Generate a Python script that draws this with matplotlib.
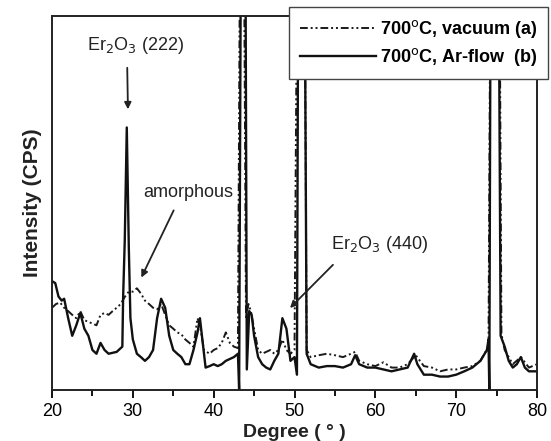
import numpy as np
from matplotlib import pyplot as plt

plt.rcParams['font.family'] = ['Liberation Sans', 'DejaVu Sans']

# 700C, vacuum (a)
deg_a = [20.0, 20.5, 21.0, 21.5, 22.0, 22.5, 23.0, 23.5, 24.0, 24.5, 25.0, 25.5, 26.0, 26.5, 27.0, 27.5,
         28.0, 28.5, 29.0, 29.5, 30.0, 30.5, 31.0, 31.5, 32.0, 32.5, 33.0, 33.5, 34.0, 34.5, 35.0, 35.5,
         36.0, 36.5, 37.0, 37.5, 38.0, 38.3, 38.8, 39.5, 40.0, 40.5, 41.0, 41.5, 42.0, 42.5, 43.0, 43.3,
         43.7, 44.0, 44.3, 44.6, 45.0, 45.5, 46.0, 46.5, 47.0, 47.5, 48.0, 48.5, 49.0, 49.5, 50.0, 50.4,
         51.2, 51.5, 52.0, 53.0, 54.0, 55.0, 56.0, 57.0, 57.5, 58.0, 59.0, 60.0, 61.0, 62.0, 63.0, 64.0,
         65.0, 66.0, 67.0, 68.0, 69.0, 70.0, 71.0, 72.0, 73.0, 74.0, 74.3, 75.3, 75.6, 76.0, 77.0, 78.0,
         79.0, 80.0]
cps_a = [22.0, 23.0, 23.4, 22.0, 21.1, 20.1, 19.2, 21.1, 18.7, 18.2, 17.8, 17.3, 20.1, 20.6, 20.1, 21.1,
         22.0, 23.0, 24.9, 26.3, 26.3, 27.2, 25.8, 23.9, 23.0, 22.0, 21.6, 23.0, 20.1, 17.3, 16.4, 15.4,
         14.9, 13.5, 12.6, 11.6, 19.2, 17.3, 10.7, 9.7, 10.7, 11.2, 12.6, 15.4, 12.6, 11.6, 11.2, 140,
         140, 19.2, 23.0, 21.1, 16.4, 10.7, 9.7, 10.2, 10.7, 9.7, 10.7, 13.5, 10.7, 9.7, 10.7, 140,
         140, 10.7, 8.8, 9.3, 9.7, 9.3, 8.8, 9.7, 10.2, 7.8, 6.9, 6.4, 7.4, 6.0, 6.0, 6.9,
         9.3, 6.4, 6.0, 5.0, 5.5, 5.5, 6.0, 6.4, 7.8, 11.6, 140, 140, 14.9, 10.7, 6.9, 8.8,
         6.0, 6.9]

# 700C, Ar-flow (b)
deg_b = [20.0, 20.4, 20.8, 21.2, 21.5, 22.0, 22.5, 23.0, 23.5, 24.0, 24.5, 25.0, 25.5, 26.0, 26.5, 27.0,
         28.0, 28.7, 28.8, 29.0, 29.25, 29.5, 29.7, 30.0, 30.5, 31.0, 31.5, 32.0, 32.5, 33.0, 33.5, 34.0,
         34.5, 35.0, 35.5, 36.0, 36.5, 37.0, 37.5, 38.0, 38.3, 38.6, 39.0, 39.5, 40.0, 40.5, 41.0, 41.5,
         42.0, 42.5, 43.0, 43.15, 43.4, 43.9, 44.1, 44.4, 44.7, 45.0, 45.5, 46.0, 46.5, 47.0, 47.5, 48.0,
         48.5, 49.0, 49.5, 50.0, 50.3, 50.5, 51.2, 51.5, 52.0, 53.0, 54.0, 55.0, 56.0, 57.0, 57.5, 58.0,
         59.0, 60.0, 61.0, 62.0, 63.0, 64.0, 64.8, 65.2, 66.0, 67.0, 68.0, 69.0, 70.0, 71.0, 72.0, 73.0,
         73.8, 74.0, 74.1, 74.3, 75.2, 75.5, 76.0, 76.5, 77.0, 77.5, 78.0, 78.5, 79.0, 80.0]
cps_b = [29.1, 28.6, 25.0, 23.9, 24.4, 19.2, 14.5, 17.3, 20.6, 16.4, 14.5, 10.7, 9.7, 12.6, 10.7, 9.7,
         10.2, 11.6, 25.0, 40.0, 70.2, 38.1, 19.2, 13.5, 9.7, 8.8, 7.8, 8.8, 10.7, 19.2, 24.4, 22.0,
         14.5, 10.7, 9.7, 8.8, 6.9, 6.9, 10.7, 15.4, 19.2, 13.5, 6.0, 6.4, 6.9, 6.4, 6.9, 7.8,
         8.3, 8.8, 9.7, 0.0, 140, 140, 5.5, 21.1, 20.1, 14.5, 8.8, 6.9, 6.0, 5.5, 7.8, 9.7,
         19.2, 16.4, 7.8, 8.8, 4.1, 140, 140, 9.7, 6.9, 6.0, 6.4, 6.4, 6.0, 6.9, 9.3, 6.9,
         6.0, 6.0, 5.5, 5.0, 5.5, 6.0, 9.7, 6.9, 4.1, 4.1, 3.6, 3.6, 4.1, 5.0, 6.0, 7.8,
         10.7, 13.5, 0.0, 140, 140, 14.5, 11.6, 7.8, 6.0, 6.9, 8.8, 6.0, 5.0, 5.0]

fig = plt.figure(figsize=(5.51, 4.41), dpi=100)
ax = fig.add_axes([0.0944, 0.1156, 0.8802, 0.8481])

ax.plot(deg_a, cps_a, color='#1a1a1a', lw=1.4, ls=(0, (4, 1.5, 1, 1.5, 1, 1.5)),
        label='700$^{\\mathrm{o}}$C, vacuum (a)')
ax.plot(deg_b, cps_b, color='#111111', lw=1.7, label='700$^{\\mathrm{o}}$C, Ar-flow  (b)')

ax.set_xlim(20, 80)
ax.set_ylim(0, 100)
ax.set_xticks([20, 30, 40, 50, 60, 70, 80])
ax.set_xticks([25, 35, 45, 55, 65, 75], minor=True)
ax.set_yticks([])
ax.tick_params(axis='x', which='major', length=6, width=1.3, labelsize=13, direction='out', pad=3)
ax.tick_params(axis='x', which='minor', length=4, width=1.3)
for s in ax.spines.values():
    s.set_linewidth(1.4)
    s.set_color('#222222')

ax.set_xlabel('Degree ( ° )', fontsize=14, fontweight='bold', labelpad=3, color='#222222')
ax.set_ylabel('Intensity (CPS)', fontsize=15, fontweight='bold', labelpad=7, color='#222222')

ax.annotate('', xy=(29.4, 74.3), xytext=(29.3, 86.9),
            arrowprops=dict(arrowstyle='-|>', color='#222222', lw=1.3, mutation_scale=10))
ax.text(30.4, 92.2, 'Er$_2$O$_3$ (222)', fontsize=13, ha='center', va='center', color='#222222')

ax.annotate('', xy=(30.9, 29.4), xytext=(35.2, 48.7),
            arrowprops=dict(arrowstyle='-|>', color='#222222', lw=1.3, mutation_scale=10))
ax.text(36.8, 52.7, 'amorphous', fontsize=13, ha='center', va='center', color='#222222')

ax.annotate('', xy=(49.2, 21.4), xytext=(55.0, 34.0),
            arrowprops=dict(arrowstyle='-|>', color='#222222', lw=1.3, mutation_scale=10))
ax.text(60.5, 38.8, 'Er$_2$O$_3$ (440)', fontsize=13, ha='center', va='center', color='#222222')

leg = ax.legend(loc='upper right', bbox_to_anchor=(548 / 551, 1 - 7 / 441),
                bbox_transform=fig.transFigure, fancybox=False, handlelength=4.2,
                borderpad=0.6, labelspacing=0.35, handletextpad=0.2, borderaxespad=0,
                prop={'weight': 'bold', 'size': 13})
leg.get_frame().set_edgecolor('#444444')
leg.get_frame().set_linewidth(1.0)
leg.get_frame().set_alpha(1)

plt.savefig('out.png', dpi=100)
